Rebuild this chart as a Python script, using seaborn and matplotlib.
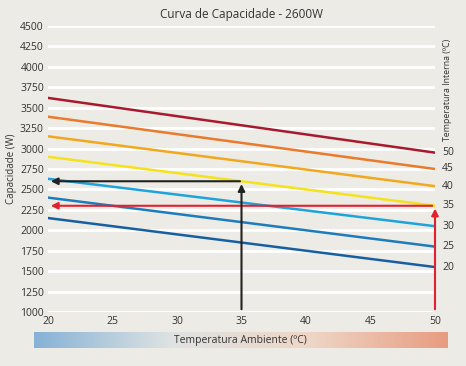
import pandas as pd
import numpy as np
import matplotlib
matplotlib.use("Agg")
import matplotlib.pyplot as plt
from matplotlib.colors import LinearSegmentedColormap
import seaborn as sns

# values
ambient = [20, 50]
interna = [50, 45, 40, 35, 30, 25, 20]
cap_at_20 = [3620, 3390, 3150, 2900, 2630, 2400, 2150]
cap_at_50 = [2950, 2750, 2540, 2300, 2050, 1800, 1550]
line_colors = ["#a8192e", "#ea7a2c", "#f2a81e", "#f4e21c", "#1fa3dc", "#1d7cbc", "#1660a2"]
yticks = list(range(1000, 4501, 250))
xticks = [20, 25, 30, 35, 40, 45, 50]

# example points marked with arrows
ex_black = (35, 2600)
ex_red = (50, 2300)

rows = []
for t, a, b in zip(interna, cap_at_20, cap_at_50):
    rows.append({"amb": ambient[0], "cap": a, "int": str(t)})
    rows.append({"amb": ambient[1], "cap": b, "int": str(t)})
df = pd.DataFrame(rows)

bg = "#edebe5"
sns.set_style("white")
plt.rcParams["font.family"] = ["Open Sans", "DejaVu Sans"]

fig = plt.figure(figsize=(4.66, 3.66), dpi=100, facecolor=bg)
ax = fig.add_axes([48 / 466, 1 - 312 / 366, (435 - 48) / 466, (312 - 26) / 366])
ax.set_facecolor(bg)

for y in yticks:
    ax.axhline(y, color="white", lw=2.0, zorder=0)

sns.lineplot(data=df, x="amb", y="cap", hue="int", hue_order=[str(t) for t in interna],
             palette=line_colors, lw=1.8, legend=False, ax=ax, zorder=2)

# black arrow: up from 35 then left
ax.annotate("", xy=(ex_black[0], ex_black[1]), xytext=(ex_black[0], 1000),
            arrowprops=dict(arrowstyle="-|>", color="#222222", lw=1.5, mutation_scale=10), zorder=4)
ax.annotate("", xy=(20, ex_black[1]), xytext=(ex_black[0] + 0.1, ex_black[1]),
            arrowprops=dict(arrowstyle="-|>", color="#222222", lw=1.5, mutation_scale=10), zorder=4)
# red arrow: up from 50 then left
ax.annotate("", xy=(ex_red[0], ex_red[1]), xytext=(ex_red[0], 1000),
            arrowprops=dict(arrowstyle="-|>", color="#e2202e", lw=1.5, mutation_scale=10), zorder=4)
ax.annotate("", xy=(20, ex_red[1]), xytext=(ex_red[0], ex_red[1]),
            arrowprops=dict(arrowstyle="-|>", color="#e2202e", lw=1.5, mutation_scale=10), zorder=3)

ax.set_xlim(20, 50)
ax.set_ylim(1000, 4500)
ax.set_xticks(xticks)
ax.set_yticks(yticks)
ax.tick_params(length=0, labelsize=7.5, colors="#333333")
ax.tick_params(axis="x", pad=3)
ax.tick_params(axis="y", pad=3)
for s in ax.spines.values():
    s.set_visible(False)
ax.set_xlabel("")
ax.set_ylabel("Capacidade (W)", fontsize=7, color="#333333", labelpad=2)
ax.set_title("Curva de Capacidade - 2600W", fontsize=8.5, color="#333333", pad=6)

# right side labels
for t, v in zip(interna, cap_at_50):
    ax.text(50.55, v, str(t), fontsize=7.5, color="#333333", va="center", ha="left", clip_on=False)
fig.text(448 / 466, 1 - 90 / 366, "Temperatura Interna (ºC)", rotation=90, fontsize=6.3,
         color="#333333", ha="center", va="center")

# gradient bar for ambient temperature
cax = fig.add_axes([34 / 466, 1 - 348 / 366, (447 - 34) / 466, 16 / 366])
cmap = LinearSegmentedColormap.from_list("amb", ["#86b2d6", "#dfe3e2", "#eed6c6", "#e89c80"])
cax.imshow(np.linspace(0, 1, 256)[None, :], aspect="auto", cmap=cmap, extent=[0, 1, 0, 1])
cax.set_axis_off()
cax.text(0.5, 0.5, "Temperatura Ambiente (ºC)", fontsize=7.5, color="#333333",
         ha="center", va="center", transform=cax.transAxes)

fig.savefig("out.png", dpi=100, facecolor=bg)
